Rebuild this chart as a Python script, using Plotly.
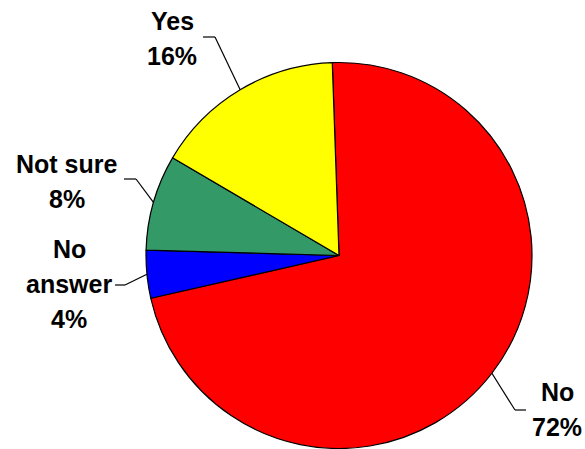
import math
import plotly.graph_objects as go

# Survey answers (percent)
labels = ["No", "No answer", "Not sure", "Yes"]
values = [72, 4, 8, 16]
colors = ["#FF0000", "#0000FF", "#339966", "#FFFF00"]

W, H = 585, 449
CX, CY, R = 339, 255.5, 193      # pie centre and radius in pixels (from top-left)
ROTATION = -2                     # start of the first slice, degrees clockwise from 12 o'clock

# how each label is wrapped
label_lines = {
    "No": ["No"],
    "No answer": ["No", "answer"],
    "Not sure": ["Not sure"],
    "Yes": ["Yes"],
}

# label text blocks: centre x and centre y of the first line (pixels)
label_blocks = {
    "No": (557, 392),
    "No answer": (69, 249),
    "Not sure": (67, 164),
    "Yes": (172, 21),
}
LINE_GAP = 35

# leader lines: outer end and elbow (pixels); inner end sits on the slice edge
leaders = {
    "No": [(526, 410), (515, 410)],
    "No answer": [(115, 285), (125, 285)],
    "Not sure": [(124, 179), (136, 179)],
    "Yes": [(203, 37), (215, 37)],
}


def px(x):
    return x / W


def py(y):
    return 1 - y / H


fig = go.Figure(
    go.Pie(
        labels=labels,
        values=values,
        sort=False,
        direction="clockwise",
        rotation=ROTATION,
        marker=dict(colors=colors, line=dict(color="#000000", width=1.2)),
        textinfo="none",
        hoverinfo="label+percent",
        showlegend=False,
        domain=dict(
            x=[px(CX - R), px(CX + R)],
            y=[py(CY + R), py(CY - R)],
        ),
    )
)

total = sum(values)
annotations = []
shapes = []
cum = 0
for lab, val in zip(labels, values):
    mid = math.radians(ROTATION + 360 * (cum + val / 2) / total)
    cum += val
    ex = CX + R * math.sin(mid)
    ey = CY - R * math.cos(mid)

    pct = round(100 * val / total)
    lines = label_lines[lab] + [f"{pct}%"]
    bx, by = label_blocks[lab]
    for i, line in enumerate(lines):
        annotations.append(
            dict(
                x=px(bx), y=py(by + i * LINE_GAP),
                xref="paper", yref="paper",
                text=line, showarrow=False,
                xanchor="center", yanchor="middle",
                font=dict(family="Arial, Liberation Sans", size=25,
                          color="#000000", weight="bold"),
            )
        )

    (ox, oy), (kx, ky) = leaders[lab]
    for (x0, y0), (x1, y1) in [((ox, oy), (kx, ky)), ((kx, ky), (ex, ey))]:
        shapes.append(
            dict(type="line", xref="paper", yref="paper",
                 x0=px(x0), y0=py(y0), x1=px(x1), y1=py(y1),
                 line=dict(color="#000000", width=1.2))
        )

fig.update_layout(
    width=W, height=H,
    margin=dict(l=0, r=0, t=0, b=0),
    paper_bgcolor="#FFFFFF",
    plot_bgcolor="#FFFFFF",
    annotations=annotations,
    shapes=shapes,
)

fig.write_html("out.html")
